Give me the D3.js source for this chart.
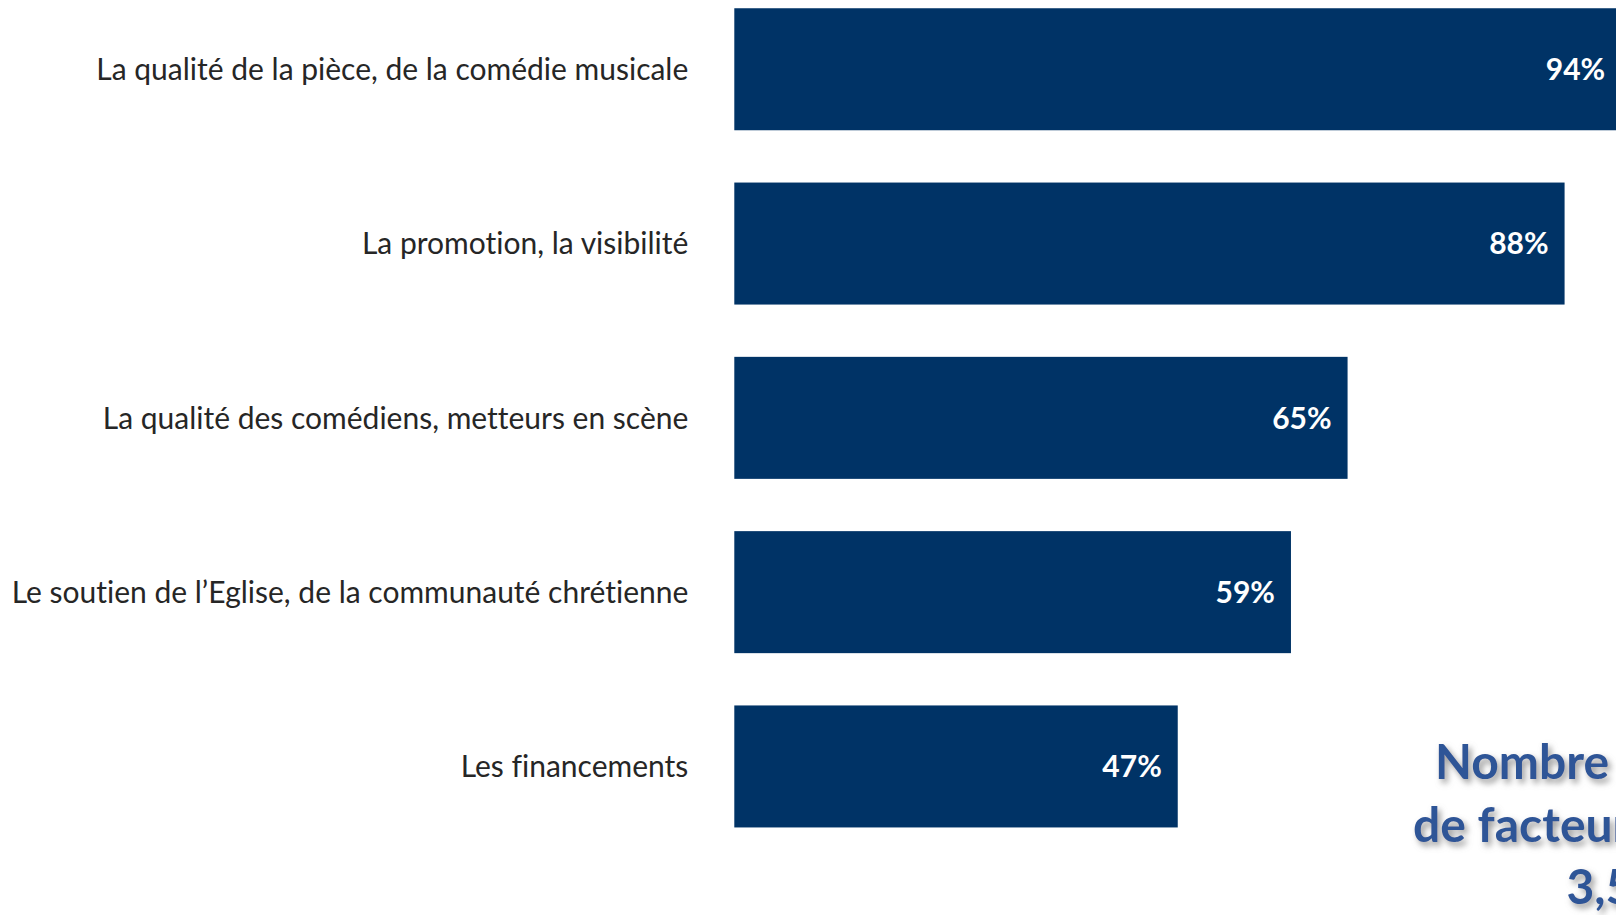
<!DOCTYPE html>
<html>
<head>
<meta charset="utf-8">
<script src="https://cdn.jsdelivr.net/npm/d3@7"></script>
<style>
  html, body { margin: 0; padding: 0; background: #ffffff; overflow: hidden; }
  svg { display: block; }
  text { font-variant-ligatures: none; }
</style>
</head>
<body>
<svg id="chart" width="1616" height="915"></svg>
<script>
// ---- data ----
const categories = [
  "La qualité de la pièce, de la comédie musicale",
  "La promotion, la visibilité",
  "La qualité des comédiens, metteurs en scène",
  "Le soutien de l’Eglise, de la communauté chrétienne",
  "Les financements"
];
const values = [94, 88, 65, 59, 47];
const noteLines = ["Nombre moyen", "de facteurs cités :", "3,5"];

// ---- layout ----
const W = 1616, H = 915;
const svg = d3.select("#chart");

const x = d3.scaleLinear().domain([0, 100]).range([734.3, 1677.8]);
const y = d3.scaleBand().domain(categories).range([-17.9, 853.6])
  .paddingInner(0.3).paddingOuter(0.15);

const barColor = "#003366";
const labelFont = "Lato, 'Open Sans', sans-serif";

// defs: shadow for the note text
const defs = svg.append("defs");
const f = defs.append("filter").attr("id", "shadow")
  .attr("x", "-20%").attr("y", "-40%").attr("width", "140%").attr("height", "180%");
f.append("feDropShadow").attr("dx", 3).attr("dy", 4).attr("stdDeviation", 3)
  .attr("flood-color", "#7f7f7f").attr("flood-opacity", 0.8);

// bars
svg.append("g").selectAll("rect")
  .data(values)
  .join("rect")
  .attr("x", x(0))
  .attr("y", (d, i) => y(categories[i]))
  .attr("width", d => x(d) - x(0))
  .attr("height", y.bandwidth())
  .attr("fill", barColor);

// category axis
const axis = svg.append("g")
  .attr("transform", `translate(${x(0)},0)`)
  .call(d3.axisLeft(y).tickSize(0).tickPadding(46));
axis.select(".domain").remove();
axis.selectAll("text")
  .attr("font-family", labelFont)
  .attr("font-size", 30)
  .attr("fill", "#262626")
  .attr("dy", "0.36em");

// value labels
svg.append("g").selectAll("text")
  .data(values)
  .join("text")
  .attr("x", d => x(d) - 16)
  .attr("y", (d, i) => y(categories[i]) + y.bandwidth() / 2)
  .attr("dy", "0.36em")
  .attr("text-anchor", "end")
  .attr("font-family", labelFont)
  .attr("font-weight", "bold")
  .attr("font-size", 30)
  .attr("fill", "#ffffff")
  .text(d => d + "%");

// note (clipped at right edge as in reference)
const note = svg.append("g").attr("filter", "url(#shadow)");
note.selectAll("text")
  .data(noteLines)
  .join("text")
  .attr("x", 1600)
  .attr("y", (d, i) => 779 + i * 62.5)
  .attr("text-anchor", "middle")
  .attr("font-family", labelFont)
  .attr("font-weight", "bold")
  .attr("font-size", 48)
  .attr("fill", "#2f5597")
  .text(d => d);
</script>
</body>
</html>
